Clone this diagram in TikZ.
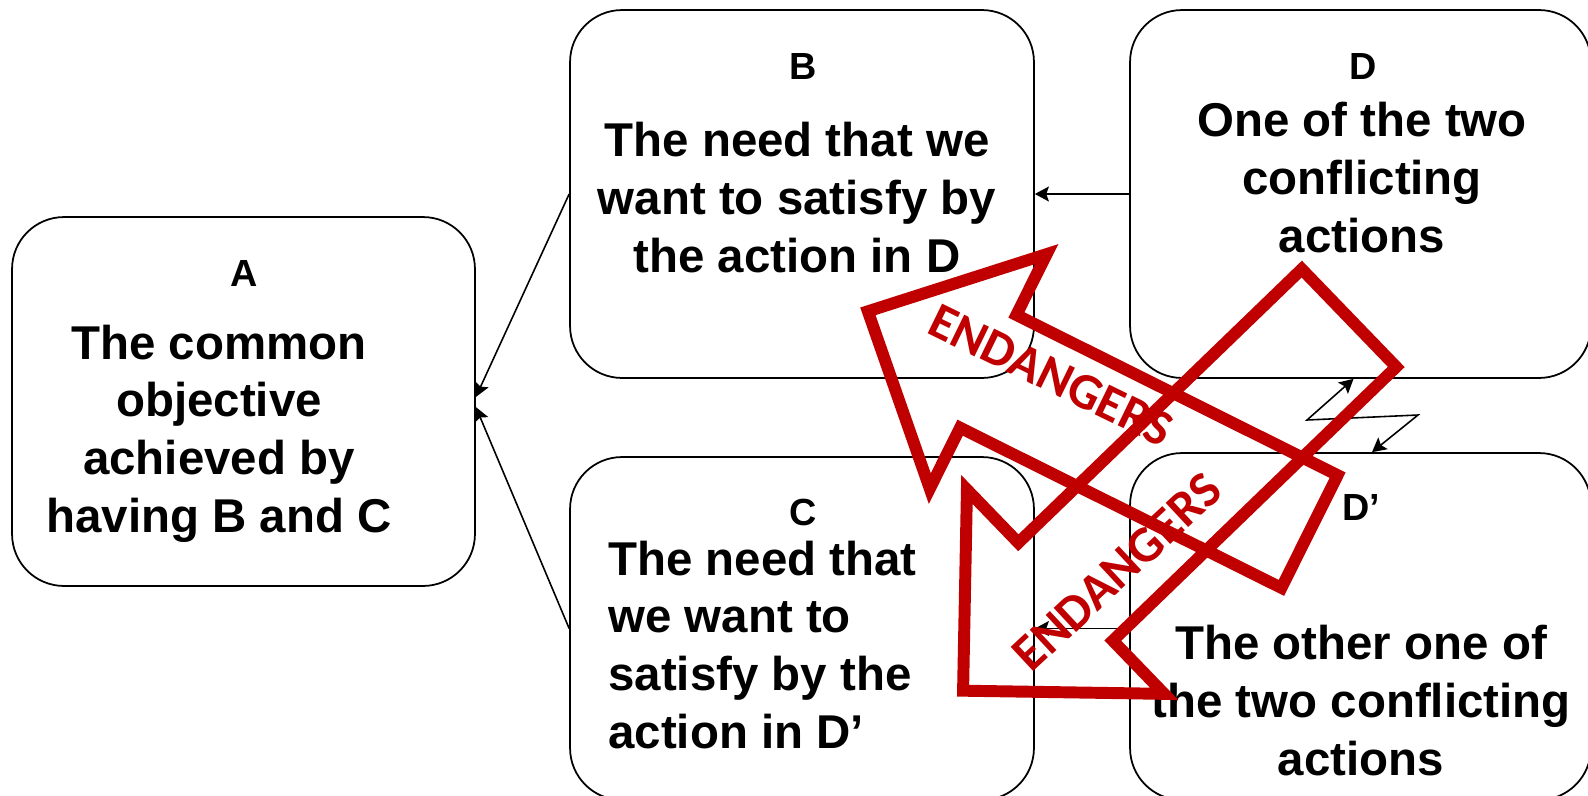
\documentclass[tikz,border=0pt]{standalone}
\usepackage{fontspec}
\setmainfont{Liberation Sans}
\newfontfamily\calibrifont{Carlito}
\usetikzlibrary{arrows.meta}
\definecolor{dangerred}{RGB}{192,0,0}
\tikzset{
>={Stealth[length=8pt,width=8.5pt,inset=1.5pt]}, % small filled heads
block/.style={draw, line width=1pt, rounded corners=1.04cm, inner sep=0pt}, % the five boxes
letter/.style={font=\bfseries\fontsize{21.5}{25}\selectfont, anchor=base, inner sep=0pt},
need/.style={font=\bfseries\fontsize{27}{32.8}\selectfont, align=center, anchor=base, inner sep=0pt}, % base = last line
link/.style={->, line width=0.9pt},
zap/.style={<->, line width=0.9pt},
danger/.style={draw=dangerred, line width=6.8pt, line join=miter}, % hollow block arrow
dangertext/.style={text=dangerred, font=\calibrifont\bfseries\fontsize{29}{34}\selectfont, inner sep=0pt},
}
\begin{document}
\begin{tikzpicture}[x=0.02cm, y=-0.02cm]
\useasboundingbox (0,0) rectangle (1588,795);
\clip (0,0) rectangle (1588,795);
% boxes
\node[block, minimum width=9.26cm, minimum height=7.38cm] (A) at (243.5,401.5) {};
\node[block, minimum width=9.28cm, minimum height=7.36cm] (B) at (802,194) {};
\node[block, minimum width=9.22cm, minimum height=7.36cm] (D) at (1360.5,194) {};
\node[block, minimum width=9.28cm, minimum height=6.86cm] (C) at (802,628.5) {};
\node[block, minimum width=9.22cm, minimum height=6.94cm] (Dp) at (1360.5,626.5) {};
% texts
\node[letter] (Alabel) at (244,286) {A};
\node[need] (Atext) at (219,532) {The common\\objective\\achieved by\\having B and C};
\node[letter] (Blabel) at (803,79) {B};
\node[need] (Btext) at (797,272) {The need that we\\want to satisfy by\\the action in D};
\node[letter] (Dlabel) at (1363,79) {D};
\node[need] (Dtext) at (1362,252) {One of the two\\conflicting\\actions};
\node[letter] (Clabel) at (803,525) {C};
\node[need, align=left, anchor=base west] (Ctext) at (608,748) {The need that\\we want to\\satisfy by the\\action in D’};
\node[letter] (Dplabel) at (1361,520) {D’};
\node[need] (Dptext) at (1361,775) {The other one of\\the two conflicting\\actions};
% connectors
\draw[link] (B.west) -- ([yshift=0.09cm]A.east);
\draw[link] (C.west) -- ([yshift=-0.11cm]A.east);
\draw[link] (D.west) -- (B.east);
\draw[link] (Dp.west |- C.east) -- (C.east);
\coordinate (zig) at (1307,420);
\coordinate (zag) at (1418,415);
\draw[zap] ([xshift=-0.14cm]D.south) -- (zig) -- (zag) -- ([xshift=0.23cm]Dp.north);
% red arrows
\draw[danger, shift={(1309.5,531.5)}, rotate=153.5]
  (0,-63) -- (359,-63) -- (359,-131) -- (493.5,0) -- (359,131) -- (359,63) -- (0,63) -- cycle;
\draw[danger, shift={(1349,318)}, rotate=224]
  (0,-68) -- (394,-68) -- (394,-142) -- (536.5,0) -- (394,142) -- (394,68) -- (0,68) -- cycle;
\node[dangertext, rotate=-26] (warn1) at (1051,375) {ENDANGERS};
\node[dangertext, rotate=43] (warn2) at (1117,572) {ENDANGERS};
\end{tikzpicture}
\end{document}
